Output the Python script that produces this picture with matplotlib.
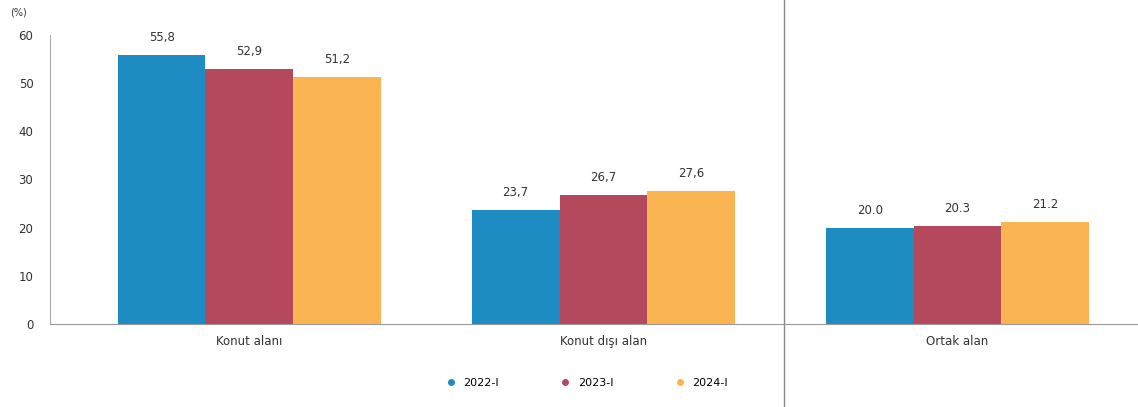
import matplotlib.pyplot as plt
from matplotlib.lines import Line2D
from matplotlib.transforms import blended_transform_factory

categories = ["Konut alanı", "Konut dışı alan", "Ortak alan"]
series = ["2022-I", "2023-I", "2024-I"]
v2022 = [55.8, 23.7, 20.0]
v2023 = [52.9, 26.7, 20.3]
v2024 = [51.2, 27.6, 21.2]
decimal_sep = [",", ",", "."]

colors = ["#1d8cc2", "#b4495e", "#fab552"]

fig = plt.figure(figsize=(11.38, 4.07), dpi=100)
ax = fig.add_axes([0.044, 0.204, 0.956, 0.71])

x = list(range(len(categories)))
width = 0.248

for k, (vals, col, name) in enumerate(zip([v2022, v2023, v2024], colors, series)):
    pos = [i + (k - 1) * width for i in x]
    ax.bar(pos, vals, width, color=col, label=name)
    for i, v in enumerate(vals):
        txt = f"{v:.1f}".replace(".", decimal_sep[i])
        ax.text(pos[i], v + 2.3, txt, ha="center", va="bottom", fontsize=8.5, color="#333333")

ax.set_xlim(-0.563, 2.51)
ax.set_ylim(0, 60)
ax.set_yticks(range(0, 61, 10))
ax.set_xticks(x, categories)
ax.tick_params(axis="y", length=0, labelsize=8.5, colors="#333333", pad=12)
ax.tick_params(axis="x", length=0, labelsize=8.5, colors="#333333", pad=8)

for s in ["top", "right"]:
    ax.spines[s].set_visible(False)
ax.spines["left"].set_color("#aaaaaa")
ax.spines["bottom"].set_color("#999999")
ax.spines["left"].set_linewidth(0.8)
ax.spines["bottom"].set_linewidth(0.8)

# separator line across whole figure height
trans = blended_transform_factory(ax.transData, fig.transFigure)
ax.add_line(Line2D([1.51, 1.51], [0, 1], transform=trans, color="#888888",
                   linewidth=1, clip_on=False))

fig.text(0.009, 0.97, "(%)", fontsize=7, color="#333333", va="center")

handles = [Line2D([], [], marker="o", linestyle="", color=c, markersize=4) for c in colors]
fig.legend(handles, series, loc="center", bbox_to_anchor=(0.513, 0.06), ncol=3,
           frameon=False, fontsize=8, handletextpad=0.1, columnspacing=5)

fig.savefig("out.png", dpi=100)
